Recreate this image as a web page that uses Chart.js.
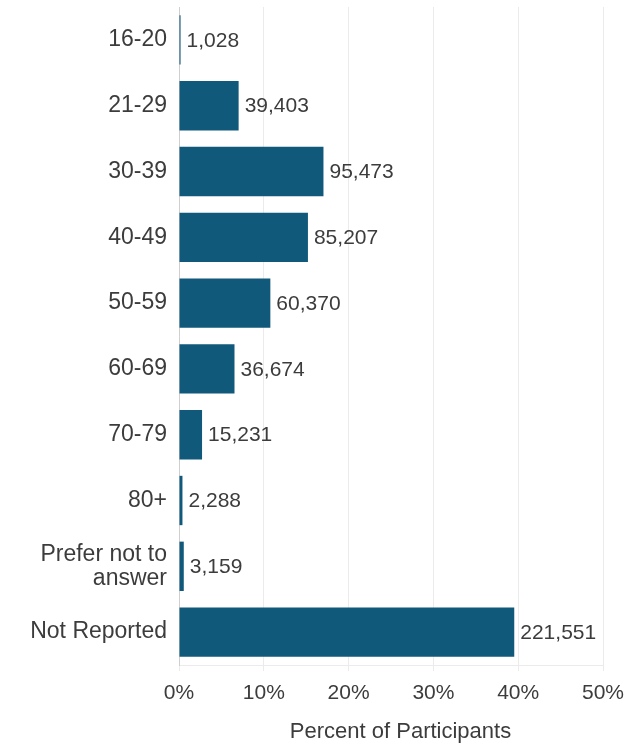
<!DOCTYPE html>
<html>
<head>
<meta charset="utf-8">
<script src="https://cdn.jsdelivr.net/npm/chart.js@4/dist/chart.umd.min.js"></script>
<style>
  html, body { margin: 0; padding: 0; background: #fff; }
  #wrap { width: 628px; height: 745px; position: relative; }
</style>
</head>
<body>
<div id="wrap"><canvas id="chart"></canvas></div>
<script>
'use strict';

// Age groups and participant counts
const ageGroups = ['16-20', '21-29', '30-39', '40-49', '50-59', '60-69', '70-79', '80+', ['Prefer not to', 'answer'], 'Not Reported'];
const participants = [1028, 39403, 95473, 85207, 60370, 36674, 15231, 2288, 3159, 221551];
const xTicks = [0, 10, 20, 30, 40, 50];
const xTitle = 'Percent of Participants';

const BAR_COLOR = '#11597b';
const TEXT_COLOR = '#3c3c3c';
const GRID_COLOR = '#ebebeb';
const FONT = "'Liberation Sans', Arial, sans-serif";

const total = participants.reduce((a, b) => a + b, 0);
const percents = participants.map(n => n / total * 100);

const fmtCount = new Intl.NumberFormat('en-US');

// Count label to the right of each bar, plus the x-axis title
const countLabels = {
  id: 'countLabels',
  afterDatasetsDraw(chart) {
    const { ctx, chartArea } = chart;
    const meta = chart.getDatasetMeta(0);
    ctx.save();
    ctx.font = `21px ${FONT}`;
    ctx.fillStyle = TEXT_COLOR;
    ctx.textAlign = 'left';
    ctx.textBaseline = 'middle';
    meta.data.forEach((bar, i) => {
      ctx.fillText(fmtCount.format(participants[i]), bar.x + 6, bar.y + 1);
    });

    // axis title sits under the ticks, centred right of the labels
    ctx.font = `22px ${FONT}`;
    ctx.textAlign = 'center';
    ctx.fillText(xTitle, (chartArea.left + chart.width) / 2 - 3, chartArea.bottom + 67);
    ctx.restore();
  }
};

new Chart(document.getElementById('chart'), {
  type: 'bar',
  data: {
    labels: ageGroups,
    datasets: [{
      data: percents,
      backgroundColor: BAR_COLOR,
      borderWidth: 0,
      barPercentage: 0.75,
      categoryPercentage: 1.0,
    }],
  },
  options: {
    indexAxis: 'y',
    responsive: true,
    maintainAspectRatio: false,
    animation: false,
    layout: { padding: { top: 7, right: 25, bottom: 0, left: 0 } },
    plugins: {
      legend: { display: false },
      tooltip: { enabled: false },
    },
    scales: {
      x: {
        min: 0,
        max: 50,
        afterBuildTicks: axis => { axis.ticks = xTicks.map(v => ({ value: v })); },
        afterFit: axis => {
          axis.height = 80;
          axis.paddingLeft = 0;
          axis.paddingRight = 0;
        },
        grid: { color: GRID_COLOR, lineWidth: 1, drawTicks: true, tickLength: 6 },
        border: { display: true, color: GRID_COLOR },
        ticks: {
          color: TEXT_COLOR,
          font: { family: FONT, size: 21 },
          padding: 10,
          callback: v => v + '%',
        },
      },
      y: {
        afterFit: axis => {
          axis.width = 179;
          axis.paddingTop = 0;
          axis.paddingBottom = 0;
        },
        grid: { display: false, drawTicks: false },
        border: { display: true, color: '#cfcfcf', dash: [2, 2] },
        ticks: {
          color: TEXT_COLOR,
          font: { family: FONT, size: 23, lineHeight: 1.05 },
          padding: 12,
        },
      },
    },
  },
  plugins: [countLabels],
});
</script>
</body>
</html>
